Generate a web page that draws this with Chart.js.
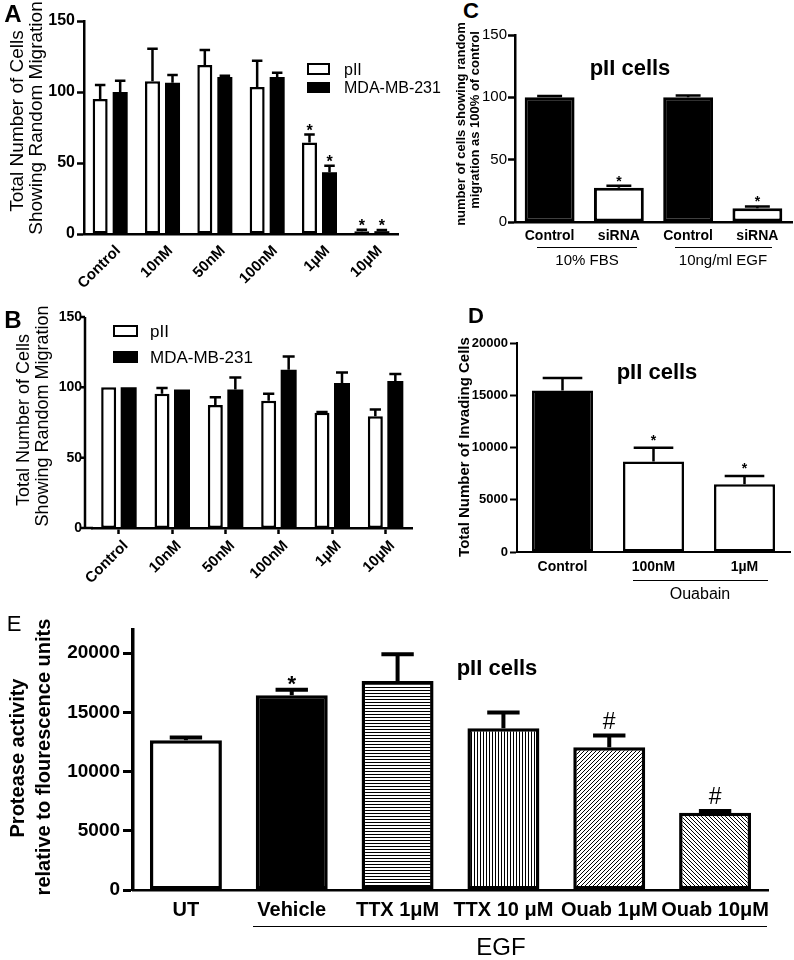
<!DOCTYPE html>
<html><head><meta charset="utf-8">
<script src="https://cdn.jsdelivr.net/npm/chart.js@4"></script>
<style>
body{margin:0;background:#fff;width:794px;height:960px;position:relative;overflow:hidden;font-family:"Liberation Sans",Arial,sans-serif;color:#000}
#charts canvas{position:absolute}
.t{position:absolute;white-space:nowrap;line-height:1;transform:translate(-50%,-50%)}
.v{position:absolute;white-space:nowrap;line-height:1;transform:translate(-50%,-50%) rotate(-90deg)}
.l{position:absolute;white-space:nowrap;line-height:1;transform:translate(0,-50%)}
.hl{position:absolute;height:1px;background:#000}
.box{position:absolute;box-sizing:border-box;border:2.5px solid #000}
b,.b{font-weight:bold}
</style></head><body>
<div id="charts"></div>

<!-- Panel letters -->
<div class="t b" style="left:13px;top:14px;font-size:24px">A</div>
<div class="t b" style="left:13px;top:320px;font-size:24px">B</div>
<div class="t b" style="left:471px;top:11px;font-size:22px">C</div>
<div class="t b" style="left:476px;top:316px;font-size:22px">D</div>
<div class="t" style="left:14px;top:624px;font-size:22px">E</div>

<!-- A -->
<div class="v" style="left:16px;top:121px;font-size:19px">Total Number of Cells</div>
<div class="v" style="left:35px;top:118px;font-size:19px">Showing Random Migration</div>
<div class="box" style="left:307px;top:63px;width:23px;height:12px;background:#fff"></div>
<div class="box" style="left:307px;top:82px;width:23px;height:11px;background:#000"></div>
<div class="l" style="left:344px;top:70px;font-size:16px">pII</div>
<div class="l" style="left:344px;top:88px;font-size:16px">MDA-MB-231</div>

<!-- B -->
<div class="v" style="left:23px;top:420px;font-size:18px">Total Number of Cells</div>
<div class="v" style="left:42px;top:416px;font-size:18px">Showing Random Migration</div>
<div class="box" style="left:113px;top:325px;width:25px;height:12px;background:#fff"></div>
<div class="box" style="left:113px;top:351px;width:25px;height:12px;background:#000"></div>
<div class="l" style="left:150px;top:331px;font-size:17px">pII</div>
<div class="l" style="left:150px;top:357px;font-size:17px">MDA-MB-231</div>

<!-- C -->
<div class="v b" style="left:460px;top:124px;font-size:13px">number of cells showing random</div>
<div class="v b" style="left:474px;top:120px;font-size:13px">migration as 100% of control</div>
<div class="t b" style="left:630px;top:68px;font-size:22px">pII cells</div>
<div class="hl" style="left:537px;top:247px;width:100px"></div>
<div class="hl" style="left:675px;top:247px;width:97px"></div>
<div class="t" style="left:587px;top:259px;font-size:15px">10% FBS</div>
<div class="t" style="left:723px;top:259px;font-size:15px">10ng/ml EGF</div>

<!-- D -->
<div class="v b" style="left:463px;top:447px;font-size:15px">Total Number of Invading Cells</div>
<div class="t b" style="left:657px;top:372px;font-size:22px">pII cells</div>
<div class="hl" style="left:633px;top:580px;width:135px"></div>
<div class="t" style="left:700px;top:594px;font-size:16px">Ouabain</div>

<!-- E -->
<div class="v b" style="left:17px;top:758px;font-size:20px">Protease activity</div>
<div class="v b" style="left:43px;top:757px;font-size:20px">relative to flourescence units</div>
<div class="t b" style="left:497px;top:668px;font-size:22px">pII cells</div>
<div class="hl" style="left:253px;top:926px;width:514px"></div>
<div class="t" style="left:501px;top:947px;font-size:24px">EGF</div>

<script>
// ---------- DATA ----------
const abCategories = ["Control", "10nM", "50nM", "100nM", "1µM", "10µM"];
// Panel A
const aPII      = [95, 107.5, 119, 103.5, 64.5, 2];
const aPIIErr   = [10, 23, 10.5, 18.5, 5.5, 1];
const aPIIMark  = ["", "", "", "", "*", "*"];
const aMDA      = [100, 106.5, 110.5, 110.5, 43.5, 2];
const aMDAErr   = [8, 5.5, 1, 3, 4.5, 0.8];
const aMDAMark  = ["", "", "", "", "*", "*"];
const abTicks   = [0, 50, 100, 150];
// Panel B
const bPII      = [100, 95.5, 87.5, 90.5, 82, 79.5];
const bPIIErr   = [0, 4, 5.5, 5, 0.5, 4.8];
const bMDA      = [100, 98.5, 98.5, 112.5, 103, 104.5];
const bMDAErr   = [0, 0, 8.5, 9.5, 7.5, 5];
// Panel C
const cCategories = ["Control", "siRNA", "Control", "siRNA"];
const cValues   = [100, 27.5, 100, 11];
const cErr      = [1, 1.5, 1.5, 1.5];
const cMarks    = ["", "*", "", "*"];
// Panel D
const dCategories = ["Control", "100nM", "1µM"];
const dValues   = [15450, 8650, 6480];
const dErr      = [1200, 1330, 790];
const dMarks    = ["", "*", "*"];
const dTicks    = [0, 5000, 10000, 15000, 20000];
// Panel E
const eCategories = ["UT", "Vehicle", "TTX 1μM", "TTX 10 μM", "Ouab 1μM", "Ouab 10μM"];
const eValues   = [12650, 16450, 17650, 13650, 12050, 6520];
const eErr      = [220, 450, 2250, 1330, 990, 150];
const eMarks    = ["", "*", "", "", "#", "#"];
const eTicks    = [0, 5000, 10000, 15000, 20000];

// ---------- PLUGINS ----------
const FF = '"Liberation Sans", Arial, sans-serif';
const glyphK = {"*": 0.57, "#": 0.36};

const errPlugin = {
  id: 'errbars',
  afterDatasetsDraw(chart, args, o) {
    if (!o || !o.errors) return;
    const ctx = chart.ctx, ys = chart.scales.y;
    o.errors.forEach((errs, di) => {
      const meta = chart.getDatasetMeta(di);
      const vals = chart.data.datasets[di].data;
      meta.data.forEach((el, i) => {
        const e = errs[i];
        const top = ys.getPixelForValue(vals[i] + e);
        ctx.save();
        ctx.strokeStyle = '#000'; ctx.lineWidth = o.lineWidth; ctx.lineCap = 'butt';
        if (e > 0) {
          const cw = el.width * o.capFrac;
          ctx.beginPath();
          ctx.moveTo(el.x, el.y); ctx.lineTo(el.x, top);
          ctx.moveTo(el.x - cw / 2, top); ctx.lineTo(el.x + cw / 2, top);
          ctx.stroke();
        }
        const m = o.marks && o.marks[di] && o.marks[di][i];
        if (m) {
          const st = (o.markStyle && o.markStyle[m]) || o.markStyle['*'];
          ctx.font = st.font; ctx.fillStyle = '#000';
          ctx.textAlign = 'center'; ctx.textBaseline = 'alphabetic';
          const center = top - st.dy;
          ctx.fillText(m, el.x, center + glyphK[m] * st.size);
        }
        ctx.restore();
      });
    });
  }
};

const shiftAxisPlugin = {
  id: 'shiftAxis',
  afterDraw(chart, args, o) {
    if (!o || !o.shift) return;
    const ctx = chart.ctx, a = chart.chartArea, ys = chart.scales.y;
    const x0 = a.left - o.shift;
    ctx.save(); ctx.strokeStyle = '#000'; ctx.lineWidth = o.width;
    ctx.beginPath();
    ctx.moveTo(x0, a.top); ctx.lineTo(x0, a.bottom + o.width / 2);
    ctx.moveTo(x0 - o.width / 2, a.bottom); ctx.lineTo(a.left + 1, a.bottom);
    ys.ticks.forEach(t => { const py = ys.getPixelForValue(t.value); ctx.moveTo(x0 - o.tick, py); ctx.lineTo(x0, py); });
    ctx.stroke(); ctx.restore();
  }
};
Chart.register(errPlugin, shiftAxisPlugin);

function build(box, area, cfg) {
  const c = document.createElement('canvas');
  c.width = box.w; c.height = box.h;
  c.style.left = box.x + 'px'; c.style.top = box.y + 'px';
  c.style.width = box.w + 'px'; c.style.height = box.h + 'px';
  document.getElementById('charts').appendChild(c);
  const yW = area.l - box.x, xH = box.y + box.h - area.b;
  cfg.options.responsive = false;
  cfg.options.animation = false;
  cfg.options.events = [];
  cfg.options.devicePixelRatio = 1;
  cfg.options.layout = {padding: {left: 0, bottom: 0, top: area.t - box.y, right: box.x + box.w - area.r}};
  cfg.options.scales.y.afterFit = s => { s.width = yW; };
  cfg.options.scales.x.afterFit = s => { s.height = xH; };
  cfg.options.plugins.legend = {display: false};
  cfg.options.plugins.tooltip = {enabled: false};
  return new Chart(c, cfg);
}

function pat(kind) {
  const s = (kind === 'h' || kind === 'v') ? 3 : 4;
  const c = document.createElement('canvas'); c.width = s; c.height = s;
  const g = c.getContext('2d');
  g.fillStyle = '#fff'; g.fillRect(0, 0, s, s); g.fillStyle = '#000';
  if (kind === 'h') g.fillRect(0, 0, s, 1);
  else if (kind === 'v') g.fillRect(0, 0, 1, s);
  else if (kind === 'fwd') { for (let i = 0; i < s; i++) g.fillRect(i, s - 1 - i, 1, 1); }
  else { for (let i = 0; i < s; i++) g.fillRect(i, i, 1, 1); }
  return g.createPattern(c, 'repeat');
}

const tickFont = (size, bold) => ({family: FF, size: size, weight: bold ? 'bold' : 'normal'});
const fixedTicks = arr => (s => { s.ticks = arr.map(v => ({value: v})); });
const plain = v => String(v);

// ---------- PANEL A ----------
build({x: 0, y: 0, w: 460, h: 290}, {l: 84, r: 398, t: 21, b: 234}, {
  type: 'bar',
  data: {labels: abCategories, datasets: [
    {label: 'pII', data: aPII, backgroundColor: '#fff', borderColor: '#000', borderWidth: 2.5, borderSkipped: false, categoryPercentage: 0.765, barPercentage: 0.75},
    {label: 'MDA-MB-231', data: aMDA, backgroundColor: '#000', borderColor: '#000', borderWidth: 0, categoryPercentage: 0.765, barPercentage: 0.75}
  ]},
  options: {
    plugins: {errbars: {errors: [aPIIErr, aMDAErr], marks: [aPIIMark, aMDAMark], capFrac: 0.7, lineWidth: 2.5,
      markStyle: {'*': {font: 'bold 16px ' + FF, size: 16, dy: 8}}}},
    scales: {
      x: {grid: {display: false, drawTicks: false}, border: {color: '#000', width: 2.5},
          ticks: {color: '#000', font: tickFont(15, true), minRotation: 45, maxRotation: 45, autoSkip: false, padding: 8, labelOffset: 8}},
      y: {min: 0, max: 150, afterBuildTicks: fixedTicks(abTicks),
          grid: {display: true, drawOnChartArea: false, drawTicks: true, tickLength: 7, tickWidth: 2.5, tickColor: '#000'},
          border: {color: '#000', width: 2.5},
          ticks: {color: '#000', font: tickFont(16, true), padding: 2, callback: plain}}
    }
  }
});

// ---------- PANEL B ----------
build({x: 0, y: 290, w: 420, h: 320}, {l: 92, r: 412, t: 317, b: 528}, {
  type: 'bar',
  data: {labels: abCategories, datasets: [
    {label: 'pII', data: bPII, backgroundColor: '#fff', borderColor: '#000', borderWidth: 2.5, borderSkipped: false, categoryPercentage: 0.75, barPercentage: 0.75},
    {label: 'MDA-MB-231', data: bMDA, backgroundColor: '#000', borderColor: '#000', borderWidth: 0, categoryPercentage: 0.75, barPercentage: 0.8}
  ]},
  options: {
    plugins: {errbars: {errors: [bPIIErr, bMDAErr], capFrac: 0.75, lineWidth: 2.5, markStyle: {'*': {font: 'bold 16px ' + FF, size: 16, dy: 8}}},
              shiftAxis: {shift: 7, width: 2.5, tick: 5}},
    scales: {
      x: {grid: {display: true, offset: false, drawOnChartArea: false, drawTicks: true, tickLength: 6, tickWidth: 2.5, tickColor: '#000'},
          border: {color: '#000', width: 2.5},
          ticks: {color: '#000', font: tickFont(15, true), minRotation: 45, maxRotation: 45, autoSkip: false, padding: 3, labelOffset: 7}},
      y: {min: 0, max: 150, afterBuildTicks: fixedTicks(abTicks),
          grid: {display: false, drawTicks: false}, border: {display: false},
          ticks: {color: '#000', font: tickFont(14, true), padding: 10, callback: plain}}
    }
  }
});

// ---------- PANEL C ----------
build({x: 480, y: 0, w: 314, h: 250}, {l: 515, r: 792, t: 35, b: 222}, {
  type: 'bar',
  data: {labels: cCategories, datasets: [
    {label: 'pII cells', data: cValues, backgroundColor: ['#000', '#fff', '#000', '#fff'], borderColor: '#000', borderWidth: 3, borderSkipped: false, categoryPercentage: 0.72, barPercentage: 1}
  ]},
  options: {
    plugins: {errbars: {errors: [cErr], marks: [cMarks], capFrac: 0.5, lineWidth: 2.5,
      markStyle: {'*': {font: 'bold 14px ' + FF, size: 14, dy: 8}}}},
    scales: {
      x: {grid: {display: false, drawTicks: false}, border: {color: '#000', width: 2.5},
          ticks: {color: '#000', font: tickFont(14, true), maxRotation: 0, autoSkip: false, padding: 6}},
      y: {min: 0, max: 150, afterBuildTicks: fixedTicks(abTicks),
          grid: {display: true, drawOnChartArea: false, drawTicks: true, tickLength: 7, tickWidth: 2.5, tickColor: '#000'},
          border: {color: '#000', width: 2.5},
          ticks: {color: '#000', font: tickFont(15, false), padding: 1, callback: plain}}
    }
  }
});

// ---------- PANEL D ----------
build({x: 465, y: 300, w: 329, h: 290}, {l: 517, r: 790, t: 343, b: 552}, {
  type: 'bar',
  data: {labels: dCategories, datasets: [
    {label: 'pII cells', data: dValues, backgroundColor: ['#000', '#fff', '#fff'], borderColor: '#000', borderWidth: 2.5, borderSkipped: false, categoryPercentage: 0.67, barPercentage: 1}
  ]},
  options: {
    plugins: {errbars: {errors: [dErr], marks: [dMarks], capFrac: 0.65, lineWidth: 2.5,
      markStyle: {'*': {font: 'bold 14px ' + FF, size: 14, dy: 11}}}},
    scales: {
      x: {grid: {display: false, drawTicks: false}, border: {color: '#000', width: 2},
          ticks: {color: '#000', font: tickFont(14, true), maxRotation: 0, autoSkip: false, padding: 7}},
      y: {min: 0, max: 20000, afterBuildTicks: fixedTicks(dTicks),
          ticks: {color: '#000', font: tickFont(13, true), padding: 2, callback: plain},
          grid: {display: true, drawOnChartArea: false, drawTicks: true, tickLength: 7, tickWidth: 2, tickColor: '#000'},
          border: {color: '#000', width: 2}}
    }
  }
});

// ---------- PANEL E ----------
build({x: 60, y: 615, w: 734, h: 345}, {l: 133, r: 768, t: 628, b: 890}, {
  type: 'bar',
  data: {labels: eCategories, datasets: [
    {label: 'pII cells', data: eValues,
     backgroundColor: ['#fff', '#000', pat('h'), pat('v'), pat('fwd'), pat('back')],
     borderColor: '#000', borderWidth: 3.5, borderSkipped: false, categoryPercentage: 0.68, barPercentage: 1}
  ]},
  options: {
    plugins: {errbars: {errors: [eErr], marks: [eMarks], capFrac: 0.45, lineWidth: 4,
      markStyle: {'*': {font: 'bold 22px ' + FF, size: 22, dy: 11}, '#': {font: '23px ' + FF, size: 23, dy: 15}}}},
    scales: {
      x: {grid: {display: false, drawTicks: false}, border: {color: '#000', width: 2.5},
          ticks: {color: '#000', font: tickFont(20, true), maxRotation: 0, autoSkip: false, padding: 8}},
      y: {min: 0, max: 22000, afterBuildTicks: fixedTicks(eTicks),
          ticks: {color: '#000', font: tickFont(19, true), padding: 3, callback: plain},
          grid: {display: true, drawOnChartArea: false, drawTicks: true, tickLength: 10, tickWidth: 3, tickColor: '#000'},
          border: {color: '#000', width: 3.5}}
    }
  }
});
</script>
</body></html>
